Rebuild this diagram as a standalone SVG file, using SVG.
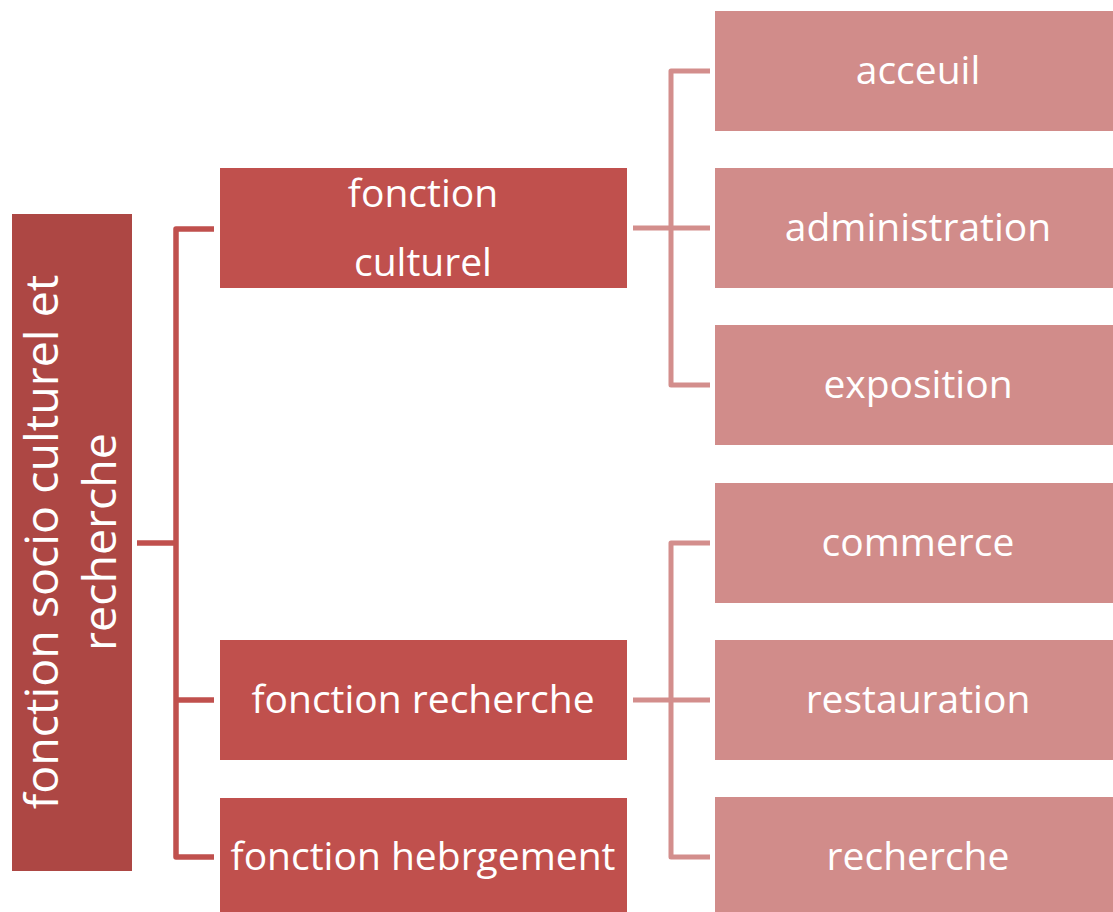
<svg xmlns="http://www.w3.org/2000/svg" width="1113" height="912" viewBox="0 0 1113 912">
<style>
.root{fill:#AD4744}
.l2{fill:#C0504D}
.l3{fill:#D18C8A}
.c1{fill:none;stroke:#C0504D;stroke-width:5.5;stroke-linejoin:round}
.c2{fill:none;stroke:#D38E8C;stroke-width:5;stroke-linejoin:round}
text{font-family:"Open Sans","Noto Sans",sans-serif;font-size:39px;fill:#FFFFFF;text-anchor:middle;dominant-baseline:central}
text.rt{font-size:46.5px;dominant-baseline:alphabetic}
</style>
<rect width="1113" height="912" fill="#FFFFFF"/>
<g id="connectors">
<path class="c1" d="M137,543 H176"/>
<path class="c1" d="M214,229 H176 V857 H214"/>
<path class="c1" d="M176,700 H214"/>
<path class="c2" d="M633,228 H710"/>
<path class="c2" d="M710,71 H671 V385 H710"/>
<path class="c2" d="M633,700 H710"/>
<path class="c2" d="M710,543 H671 V857 H710"/>
</g>
<g id="root">
<rect class="root" x="12" y="214" width="120" height="657"/>
<text class="rt" transform="translate(72,542) rotate(-90)"><tspan x="0" y="-14">fonction socio culturel et</tspan><tspan x="0" y="44">recherche</tspan></text>
</g>
<g id="culturel">
<rect class="l2" x="220" y="168" width="407" height="120"/>
<text x="423" y="191">fonction</text>
<text x="423" y="260">culturel</text>
</g>
<g id="recherche2">
<rect class="l2" x="220" y="640" width="407" height="120"/>
<text x="423" y="697">fonction recherche</text>
</g>
<g id="hebrgement">
<rect class="l2" x="220" y="798" width="407" height="120"/>
<text x="423" y="854">fonction hebrgement</text>
</g>
<g id="acceuil">
<rect class="l3" x="715" y="11" width="410" height="120"/>
<text x="918" y="68">acceuil</text>
</g>
<g id="administration">
<rect class="l3" x="715" y="168" width="410" height="120"/>
<text x="918" y="225">administration</text>
</g>
<g id="exposition">
<rect class="l3" x="715" y="325" width="410" height="120"/>
<text x="918" y="382">exposition</text>
</g>
<g id="commerce">
<rect class="l3" x="715" y="483" width="410" height="120"/>
<text x="918" y="540">commerce</text>
</g>
<g id="restauration">
<rect class="l3" x="715" y="640" width="410" height="120"/>
<text x="918" y="697">restauration</text>
</g>
<g id="recherche3">
<rect class="l3" x="715" y="797" width="410" height="120"/>
<text x="918" y="854">recherche</text>
</g>
</svg>
